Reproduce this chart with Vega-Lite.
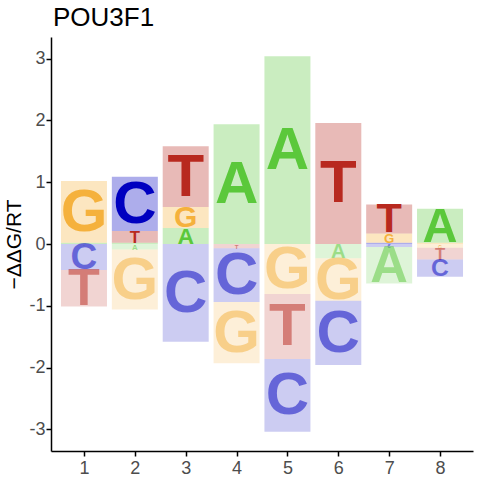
{
  "$schema": "https://vega.github.io/schema/vega-lite/v6.json",
  "autosize": "none",
  "padding": {"left": 51, "top": 37, "right": 7, "bottom": 29},
  "width": 422,
  "height": 414,
  "title": {
    "text": "POU3F1",
    "anchor": "start",
    "frame": "group",
    "font": "Liberation Sans",
    "fontSize": 26,
    "fontWeight": "normal",
    "color": "#000000",
    "offset": 6,
    "dx": 2
  },
  "data": {
    "values": [
      {"pos": 1, "letter": "A", "value": 0.02},
      {"pos": 1, "letter": "G", "value": 1.0},
      {"pos": 1, "letter": "C", "value": -0.42},
      {"pos": 1, "letter": "T", "value": -0.59},
      {"pos": 2, "letter": "A", "value": 0.02},
      {"pos": 2, "letter": "T", "value": 0.19},
      {"pos": 2, "letter": "C", "value": 0.88},
      {"pos": 2, "letter": "A", "value": -0.09},
      {"pos": 2, "letter": "G", "value": -0.97},
      {"pos": 3, "letter": "A", "value": 0.26},
      {"pos": 3, "letter": "G", "value": 0.34},
      {"pos": 3, "letter": "T", "value": 0.98},
      {"pos": 3, "letter": "C", "value": -1.58},
      {"pos": 4, "letter": "A", "value": 1.94},
      {"pos": 4, "letter": "T", "value": -0.07},
      {"pos": 4, "letter": "C", "value": -0.87},
      {"pos": 4, "letter": "G", "value": -0.99},
      {"pos": 5, "letter": "A", "value": 3.04},
      {"pos": 5, "letter": "G", "value": -0.81},
      {"pos": 5, "letter": "T", "value": -1.05},
      {"pos": 5, "letter": "C", "value": -1.18},
      {"pos": 6, "letter": "T", "value": 1.96},
      {"pos": 6, "letter": "A", "value": -0.23},
      {"pos": 6, "letter": "G", "value": -0.69},
      {"pos": 6, "letter": "C", "value": -1.04},
      {"pos": 7, "letter": "C", "value": 0.02},
      {"pos": 7, "letter": "G", "value": 0.15},
      {"pos": 7, "letter": "T", "value": 0.47},
      {"pos": 7, "letter": "C", "value": -0.05},
      {"pos": 7, "letter": "A", "value": -0.59},
      {"pos": 8, "letter": "G", "value": 0.02},
      {"pos": 8, "letter": "A", "value": 0.55},
      {"pos": 8, "letter": "G", "value": -0.06},
      {"pos": 8, "letter": "T", "value": -0.19},
      {"pos": 8, "letter": "C", "value": -0.28}
    ]
  },
  "transform": [
    {"calculate": "abs(datum.value)", "as": "mag"},
    {"stack": "value", "groupby": ["pos"], "sort": [{"field": "mag", "order": "ascending"}], "offset": "zero", "as": ["y0", "y1"]},
    {"calculate": "(datum.y0 + datum.y1) / 2", "as": "mid"}
  ],
  "encoding": {
    "x": {
      "field": "pos",
      "type": "quantitative",
      "scale": {"domain": [0.45, 8.55], "nice": false, "zero": false},
      "axis": {
        "values": [1, 2, 3, 4, 5, 6, 7, 8],
        "labelExpr": "'' + datum.value",
        "title": null,
        "grid": false,
        "labelFontSize": 18,
        "labelColor": "#4d4d4d",
        "labelFont": "Liberation Sans",
        "labelPadding": 3,
        "tickColor": "#000000",
        "tickSize": 5,
        "tickWidth": 1.5,
        "domainColor": "#000000",
        "domainWidth": 1.5
      }
    },
    "color": {
      "field": "letter",
      "type": "nominal",
      "scale": {"domain": ["A", "C", "G", "T"], "range": ["#5BC83B", "#0000C0", "#F5B13C", "#B8291F"]},
      "legend": null
    }
  },
  "layer": [
    {
      "mark": {"type": "bar", "width": 46, "strokeWidth": 0},
      "encoding": {
        "y": {
          "field": "y0",
          "type": "quantitative",
          "scale": {"domain": [-3.35, 3.35], "nice": false, "zero": false},
          "axis": {
            "values": [-3, -2, -1, 0, 1, 2, 3],
            "labelExpr": "'' + datum.value",
            "title": "−ΔΔG/RT",
            "titleFont": "Liberation Sans",
            "titleFontSize": 21,
            "titleFontWeight": "normal",
            "titleColor": "#000000",
            "titlePadding": 4,
            "grid": false,
            "labelFontSize": 18,
            "labelColor": "#4d4d4d",
            "labelFont": "Liberation Sans",
            "labelPadding": 1,
            "tickColor": "#000000",
            "tickSize": 5,
            "tickWidth": 1.5,
            "domainColor": "#000000",
            "domainWidth": 1.5
          }
        },
        "y2": {"field": "y1"},
        "fillOpacity": {"condition": {"test": "datum.value < 0", "value": 0.2}, "value": 0.32}
      }
    },
    {
      "mark": {"type": "text", "font": "Liberation Sans", "fontWeight": "bold", "baseline": "middle", "align": "center", "dy": 1},
      "encoding": {
        "y": {"field": "mid", "type": "quantitative"},
        "text": {"field": "letter"},
        "size": {"field": "mag", "type": "quantitative", "scale": {"domain": [0, 0.68], "range": [0, 60], "clamp": true}, "legend": null},
        "opacity": {"condition": {"test": "datum.value < 0", "value": 0.5}, "value": 1}
      }
    },
    {
      "mark": {"type": "rule", "color": "#000000", "strokeWidth": 1.5},
      "encoding": {"y": {"datum": 0}}
    }
  ],
  "config": {"view": {"stroke": null}, "font": "Liberation Sans"}
}
